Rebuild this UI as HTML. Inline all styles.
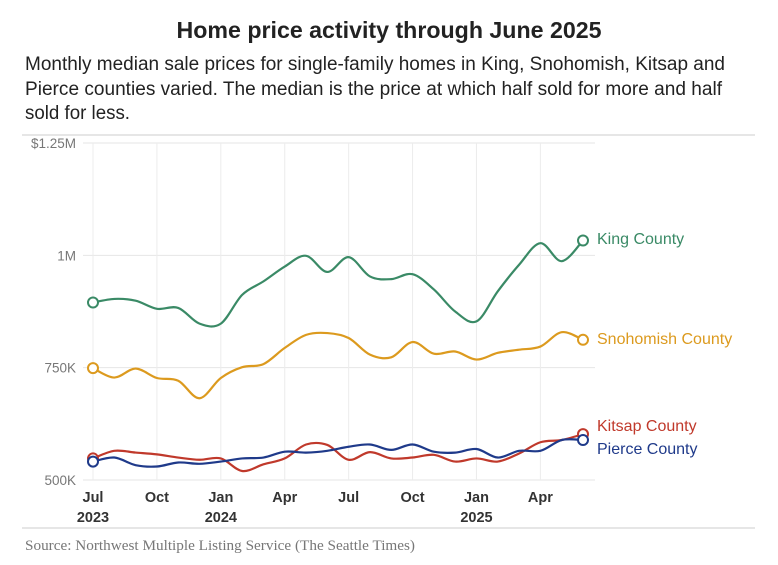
<!DOCTYPE html>
<html><head><meta charset="utf-8"><style>
body{margin:0;background:#fff;}
svg{display:block;font-family:"Liberation Sans",sans-serif;}
</style></head><body>
<svg id="chart" width="778" height="565" viewBox="0 0 778 565">
<text x="389" y="38" text-anchor="middle" font-size="23" font-weight="bold" fill="#222" textLength="425" lengthAdjust="spacingAndGlyphs">Home price activity through June 2025</text>
<g font-size="19" fill="#222">
<text x="25" y="70" textLength="700" lengthAdjust="spacingAndGlyphs">Monthly median sale prices for single-family homes in King, Snohomish, Kitsap and</text>
<text x="25" y="95" textLength="697" lengthAdjust="spacingAndGlyphs">Pierce counties varied. The median is the price at which half sold for more and half</text>
<text x="25" y="119" textLength="105" lengthAdjust="spacingAndGlyphs">sold for less.</text>
</g>
<line x1="22" y1="135" x2="755" y2="135" stroke="#ccc"/>
<line x1="22" y1="528" x2="755" y2="528" stroke="#ccc"/>
<text x="25" y="550" font-family="Liberation Serif,serif" font-size="15" fill="#777" textLength="390" lengthAdjust="spacingAndGlyphs">Source: Northwest Multiple Listing Service (The Seattle Times)</text>
<g id="grid"></g><g id="series"></g>
</svg>
<script>
const months=["Jul","Aug","Sep","Oct","Nov","Dec","Jan","Feb","Mar","Apr","May","Jun","Jul","Aug","Sep","Oct","Nov","Dec","Jan","Feb","Mar","Apr","May","Jun"];
const king=[895,903,899,881,883,848,848,912,942,975,999,963,996,953,947,958,924,875,853,920,979,1027,987,1033];
const snohomish=[749,728,748,727,721,682,727,751,758,794,823,827,816,779,773,807,781,786,768,783,790,797,829,812];
const kitsap=[548,565,561,557,550,545,548,520,535,548,579,578,545,562,548,550,556,541,548,541,559,584,589,602];
const pierce=[541,550,533,530,539,536,541,548,550,563,561,565,574,579,567,579,563,561,569,550,565,565,589,589];
const yTicks=[500,750,1000,1250];
const yTickLabels=["500K","750K","1M","$1.25M"];
const xTickIdx=[0,3,6,9,12,15,18,21];
const xTickLabels=["Jul","Oct","Jan","Apr","Jul","Oct","Jan","Apr"];
const xYearLabels=["2023","","2024","","","","2025",""];
const seriesNames=["King County","Snohomish County","Kitsap County","Pierce County"];
const seriesColors=["#3a8a66","#dc9a1e","#c0392b","#1f3a8a"];
const labelY=[244,344,431,454];

const NS="http://www.w3.org/2000/svg";
const x=i=>93+i*(490/23);
const y=v=>480-(v-500)*(337/750);
function mk(tag,attrs,parent){const e=document.createElementNS(NS,tag);for(const k in attrs)e.setAttribute(k,attrs[k]);parent.appendChild(e);return e;}
const grid=document.getElementById('grid'),ser=document.getElementById('series');
yTicks.forEach((t,i)=>{
  const l=mk('line',{x1:83,x2:595,y1:y(t),y2:y(t),stroke:'#e6e6e6'},grid);
  
  
  const tx=mk('text',{x:76,y:y(t)+5,'text-anchor':'end','font-size':13.5,fill:'#777'},grid);
  tx.textContent=yTickLabels[i];
  
  
});
xTickIdx.forEach((m,i)=>{
  const l=mk('line',{x1:x(m),x2:x(m),y1:143,y2:480,stroke:'#ececec'},grid);
  
  
  const tx=mk('text',{x:x(m),y:502,'text-anchor':'middle','font-size':14.5,'font-weight':'bold',fill:'#333'},grid);
  tx.textContent=xTickLabels[i];
  
  
  if(xYearLabels[i]){
    const yt=mk('text',{x:x(m),y:522,'text-anchor':'middle','font-size':14.5,'font-weight':'bold',fill:'#333'},grid);
    yt.textContent=xYearLabels[i];
    
    
  }
});
function smooth(pts){
  let d=`M${pts[0][0]},${pts[0][1]}`;
  for(let i=0;i<pts.length-1;i++){
    const p0=pts[Math.max(0,i-1)],p1=pts[i],p2=pts[i+1],p3=pts[Math.min(pts.length-1,i+2)];
    const c1=[p1[0]+(p2[0]-p0[0])/6,p1[1]+(p2[1]-p0[1])/6],c2=[p2[0]-(p3[0]-p1[0])/6,p2[1]-(p3[1]-p1[1])/6];
    d+=`C${c1[0]},${c1[1]} ${c2[0]},${c2[1]} ${p2[0]},${p2[1]}`;
  }
  return d;
}
[king,snohomish,kitsap,pierce].forEach((data,s)=>{
  const pts=data.map((v,i)=>[x(i),y(v)]);
  const p=mk('path',{d:smooth(pts),fill:'none',stroke:seriesColors[s],'stroke-width':2.2},ser);
  
  
  [0,data.length-1].forEach(i=>{
    const c=mk('circle',{cx:pts[i][0],cy:pts[i][1],r:5,fill:'#fff',stroke:seriesColors[s],'stroke-width':2},ser);
    
    
  });
  const t=mk('text',{x:597,y:labelY[s],'font-size':16,fill:seriesColors[s]},ser);
  t.textContent=seriesNames[s];
  
  
});
</script>
</body></html>
